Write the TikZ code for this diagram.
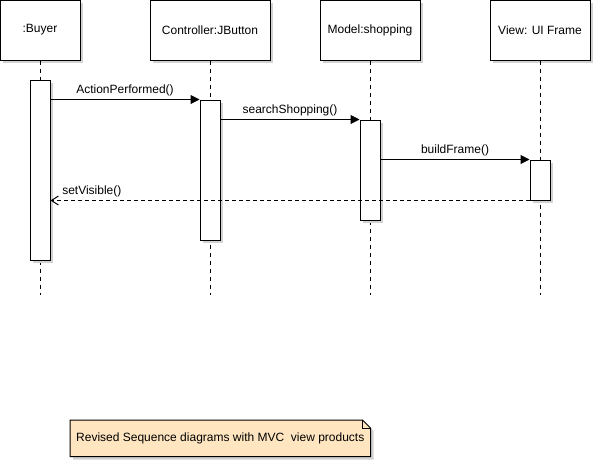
\documentclass[tikz,border=0pt]{standalone}
\usepackage{fontspec}
\setmainfont{Liberation Sans}
\usetikzlibrary{arrows.meta,shadows}
\definecolor{shadowgray}{RGB}{210,210,210}
\definecolor{notefill}{RGB}{255,230,192}
\tikzset{
  px/.style={line width=0.75pt},
  shad/.style={drop shadow={shadow xshift=2.25pt,shadow yshift=-2.25pt,fill=shadowgray,opacity=1}},
  head/.style={draw,px,fill=white,shad,minimum width=60pt,minimum height=45pt,inner sep=0pt,font=\fontsize{9pt}{11pt}\selectfont},
  act/.style={draw,px,fill=white,shad,minimum width=15pt,inner sep=0pt},
  life/.style={px,dash pattern=on 3pt off 3pt},
  msg/.style={px,-{Triangle[length=6.75pt,width=6.75pt]}},
  ret/.style={px,dash pattern=on 3pt off 2.25pt,-{Straight Barb[length=5.25pt,width=6.75pt]}},
  lbl/.style={font=\fontsize{9pt}{11pt}\selectfont,inner sep=0pt},
}
\begin{document}
\begin{tikzpicture}[x=0.75pt,y=-0.75pt]
\useasboundingbox (0,0) rectangle (595,465);
% lifelines ends
\coordinate (eB) at (40,295);
\coordinate (eC) at (210,295);
\coordinate (eM) at (370,295);
\coordinate (eV) at (540,295);
% headers
\node[head] (hB) at (40,30) {:Buyer};
\node[head,minimum width=90pt] (hC) at (210,30) {Controller:JButton};
\node[head,minimum width=75pt] (hM) at (370,30) {Model:shopping};
\node[head,minimum width=75pt] (hV) at (540,30) {View: UI Frame};
\draw[life] (hB.south) -- (eB);
\draw[life] (hC.south) -- (eC);
\draw[life] (hM.south) -- (eM);
\draw[life] (hV.south) -- (eV);
% activations
\node[act,minimum height=135pt] (aB) at (40,170) {};
\node[act,minimum height=105pt] (aC) at (210,170) {};
\node[act,minimum height=75pt] (aM) at (370,170) {};
\node[act,minimum height=30pt] (aV) at (540,180) {};
% messages
\draw[msg] (aB.east |- aC.north) -- node[lbl,above=2.5pt] {ActionPerformed()} (aC.north west);
\draw[msg] (aC.east |- aM.north) -- node[lbl,above=2.5pt] {searchShopping()} (aM.north west);
\draw[msg] (aM.east |- aV.north) -- node[lbl,above=2.5pt] {buildFrame()} (aV.north west);
\draw[ret] (aV.south west) -- (aB.east |- aV.south);
\node[lbl,anchor=south west] (lsv) at (62,197) {setVisible()};
% note
\node[lbl,minimum width=225pt,minimum height=27pt,anchor=north west] (note) at (70,420) {};
\fill[shadowgray] ([shift={(3,3)}]note.north west) -- ([shift={(-5,3)}]note.north east) -- ([shift={(3,11)}]note.north east) -- ([shift={(3,3)}]note.south east) -- ([shift={(3,3)}]note.south west) -- cycle;
\filldraw[px,fill=notefill] (note.north west) -- ([shift={(-8,0)}]note.north east) -- ([shift={(0,8)}]note.north east) -- (note.south east) -- (note.south west) -- cycle;
\draw[px] ([shift={(-8,0)}]note.north east) -- ([shift={(-8,8)}]note.north east) -- ([shift={(0,8)}]note.north east);
\node[lbl] (notetext) at (note.center) {Revised Sequence diagrams with MVC\ \ view products};
\end{tikzpicture}
\end{document}
